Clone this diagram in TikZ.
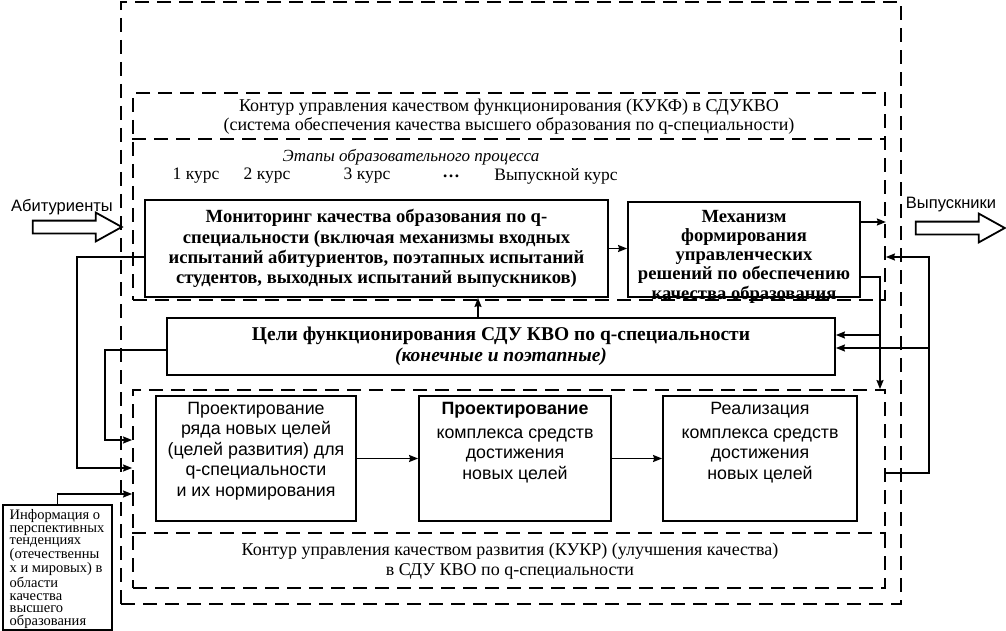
\documentclass[tikz,border=0pt]{standalone}
\usepackage{fontspec}
\setmainfont{Liberation Serif}
\setsansfont{Liberation Sans}
\usetikzlibrary{shapes.arrows,positioning,arrows.meta}
\tikzstyle{block} = [rectangle, draw=black, line width=1.8pt, inner sep=0pt]
\tikzstyle{dashline} = [line width=1.8pt, dash pattern=on 14pt off 8pt]
\tikzstyle{contour} = [rectangle, draw=black, dashline, inner sep=0pt]
\tikzstyle{txt} = [align=center, font=\fontsize{18}{20}\selectfont]
\tikzstyle{sftxt} = [align=center, font=\sffamily\fontsize{17.8}{20.5}\selectfont]
\tikzstyle{arrow} = [line width=1.5pt,->,>={Stealth[length=9pt,width=7pt,inset=1pt]}]
\tikzstyle{hollow} = [single arrow, draw=black, line width=1.8pt, minimum height=89pt, text height=5.5pt, text depth=5.5pt, single arrow head extend=8pt, single arrow tip angle=58, inner sep=0pt]

\begin{document}
\begin{tikzpicture}[x=1pt, y=-1pt]
      \useasboundingbox (0,0) rectangle (1006,631);
      % contours
      \node (outer)[contour, minimum width=780pt, minimum height=602pt] at (511,303) {};
      \node (kukf)[contour, minimum width=752pt, minimum height=207pt] at (509,196.5) {};
      \node (kukr)[contour, minimum width=752pt, minimum height=198pt] at (509,489) {};
      \draw [dashline](kukf.west |- 0,139)--(kukf.east |- 0,139);
      \draw [dashline](kukr.west |- 0,533)--(kukr.east |- 0,533);
      \node (kukftitle)[txt] at (509,116.5) {Контур управления качеством функционирования (КУКФ) в СДУКВО\\[-1pt](система обеспечения качества высшего образования по q-специальности)};
      \node (kukrtitle)[txt] at (510,561) {Контур управления качеством развития (КУКР) (улучшения качества)\\в СДУ КВО по q-специальности};
      % stages
      \node (stages)[txt, font=\itshape\fontsize{17}{20}\selectfont] at (411,157) {Этапы образовательного процесса};
      \node (c1)[txt, font=\fontsize{17.5}{20}\selectfont] at (196,176) {1 курс};
      \node (c2)[txt, font=\fontsize{17.5}{20}\selectfont] at (267,176) {2 курс};
      \node (c3)[txt, font=\fontsize{17.5}{20}\selectfont] at (367,176) {3 курс};
      \node (c4)[txt, font=\bfseries\fontsize{17.5}{20}\selectfont] at (451,176) {…};
      \node (c5)[txt, font=\fontsize{17.5}{20}\selectfont] at (556,176) {Выпускной курс};
      % blocks
      \node (mon)[block, txt, font=\bfseries\fontsize{18.6}{20.3}\selectfont, minimum width=463pt, minimum height=97pt] at (376.5,248.5) {Мониторинг качества образования по q-\\специальности (включая механизмы входных\\испытаний абитуриентов, поэтапных испытаний\\студентов, выходных испытаний выпускников)};
      \node (mech)[block, minimum width=232pt, minimum height=95pt] at (744,249.5) {};
      \node (mechtext)[txt, font=\bfseries\fontsize{18.6}{19.3}\selectfont] at (744,256.5) {Механизм\\формирования\\управленческих\\решений по обеспечению\\качества образования};
      \node (goals)[block, txt, font=\fontsize{19.5}{21}\selectfont, minimum width=668pt, minimum height=57pt] at (501,346.5) {\textbf{Цели функционирования СДУ КВО по q-специальности}\\\textbf{\textit{(конечные и поэтапные)}}};
      \node (box1)[block, minimum width=200pt, minimum height=125pt] at (256,458.5) {};
      \node (box1text)[sftxt] at (256,451) {Проектирование\\ряда новых целей\\(целей развития) для\\q-специальности\\и их нормирования};
      \node (box2)[block, minimum width=192pt, minimum height=125pt] at (515,458.5) {};
      \node (box2text)[sftxt] at (515,442.5) {\textbf{Проектирование}\\[3pt]комплекса средств\\достижения\\новых целей};
      \node (box3)[block, minimum width=194pt, minimum height=125pt] at (760,458.5) {};
      \node (box3text)[sftxt] at (760,442.5) {Реализация\\[3pt]комплекса средств\\достижения\\новых целей};
      \node (info)[block, line width=1.5pt, minimum width=109pt, minimum height=125pt] at (57.5,567.5) {};
      \node (infotext)[align=left, font=\fontsize{14.5}{12.75}\selectfont] at (57,569) {Информация о\\перспективных\\тенденциях\\(отечественны\\х и мировых) в\\области\\качества\\высшего\\образования};
      % inputs and outputs
      \node (abit)[hollow] at (71.5,227) {};
      \node (abitlabel)[sftxt, font=\sffamily\fontsize{16.5}{18}\selectfont] at (62,207) {Абитуриенты};
      \node (grad)[hollow] at (954.5,228) {};
      \node (gradlabel)[sftxt, font=\sffamily\fontsize{16.5}{18}\selectfont] at (951,205) {Выпускники};
      % connectors
      \draw [arrow](mon.west |- 0,257)--(77,257) |- (kukr.west |- 0,468);
      \draw [arrow](goals.west |- 0,350)--(105,350) |- (kukr.west |- 0,440);
      \draw [arrow](info.north) |- (kukr.west |- 0,494);
      \draw [arrow](mon.east)--(mon.east -| mech.west);
      \draw [arrow](goals.north -| 478,0)--(mon.south -| 478,0);
      \draw [arrow](mech.east |- 0,222)--(kukf.east |- 0,222);
      \coordinate (down) at (880,335);
      \draw [arrow](mech.east |- 0,277) -| (kukr.north -| down);
      \draw [arrow](down)--(goals.east |- down);
      \coordinate (back) at (929,348);
      \draw [arrow](kukr.east |- 0,473)--(929,473) |- (kukf.east |- 0,257);
      \draw [arrow](back)--(goals.east |- back);
      \draw [arrow](box1)--(box2);
      \draw [arrow](box2)--(box3);
\end{tikzpicture}
\end{document}
